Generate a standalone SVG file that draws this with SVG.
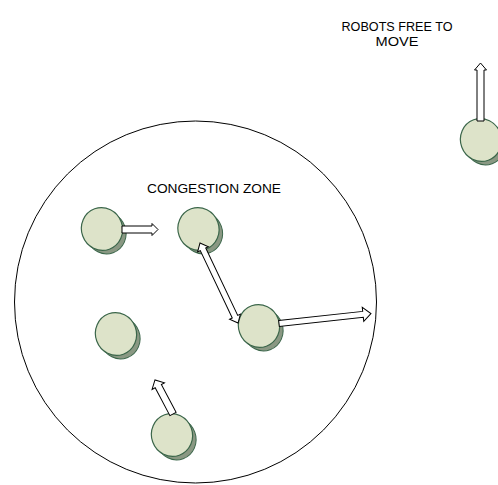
<svg xmlns="http://www.w3.org/2000/svg" width="498" height="485" viewBox="0 0 498 485">
<style>
.zone{fill:none;stroke:#000;stroke-width:1}
.sh{fill:#8a9883;stroke:#3b664a;stroke-width:1}
.top{fill:#dde3c9;stroke:#3b664a;stroke-width:1.2}
.arr{fill:#fff;stroke:#000;stroke-width:1;stroke-linejoin:miter}
.lbl{font-family:"Liberation Sans",Arial,sans-serif;font-size:12.5px;fill:#000;text-anchor:middle}
</style>
<defs>
<g id="robot">
<ellipse class="sh" cx="4" cy="4" rx="20" ry="21" transform="rotate(-20 4 4)"/>
<ellipse class="top" cx="0" cy="0" rx="20.5" ry="21.5" transform="rotate(-20)"/>
</g>
</defs>
<g id="zone">
<circle class="zone" cx="195.5" cy="302" r="181"/>
<text class="lbl" x="214" y="193" textLength="134" lengthAdjust="spacingAndGlyphs">CONGESTION ZONE</text>
</g>
<g id="free-label">
<text class="lbl" x="397" y="31" textLength="111" lengthAdjust="spacingAndGlyphs">ROBOTS FREE TO</text>
<text class="lbl" x="397" y="46" textLength="43" lengthAdjust="spacingAndGlyphs">MOVE</text>
</g>
<g id="robot1"><use href="#robot" x="102" y="229"/></g>
<g id="robot2"><use href="#robot" x="198.5" y="229"/></g>
<g id="robot3"><use href="#robot" x="259" y="326"/></g>
<g id="robot4"><use href="#robot" x="481" y="140"/></g>
<g id="robot5"><use href="#robot" x="172" y="435"/></g>
<g id="robot6"><use href="#robot" x="116" y="334"/></g>
<g id="connectors">
<path class="arr" transform="translate(122 229.5)" d="M0,-3.5 L30,-3.5 L30,-6 L36,0 L30,6 L30,3.5 L0,3.5 Z"/>
<path class="arr" transform="translate(200 243) rotate(64.6)" d="M0,0 L7,-6 L7,-3 L81.6,-3 L81.6,-6 L88.6,0 L81.6,6 L81.6,3 L7,3 L7,6 Z"/>
<path class="arr" transform="translate(279 323.5) rotate(-6.2)" d="M0,-3 L84.5,-3 L84.5,-7 L92.5,0 L84.5,7 L84.5,3 L0,3 Z"/>
<path class="arr" transform="translate(480.5 121) rotate(-90)" d="M0,-3.5 L51,-3.5 L51,-6 L58,0 L51,6 L51,3.5 L0,3.5 Z"/>
<path class="arr" transform="translate(173 414) rotate(-117.9)" d="M0,-3.5 L31.5,-3.5 L31.5,-7 L38.5,0 L31.5,7 L31.5,3.5 L0,3.5 Z"/>
</g>
</svg>
